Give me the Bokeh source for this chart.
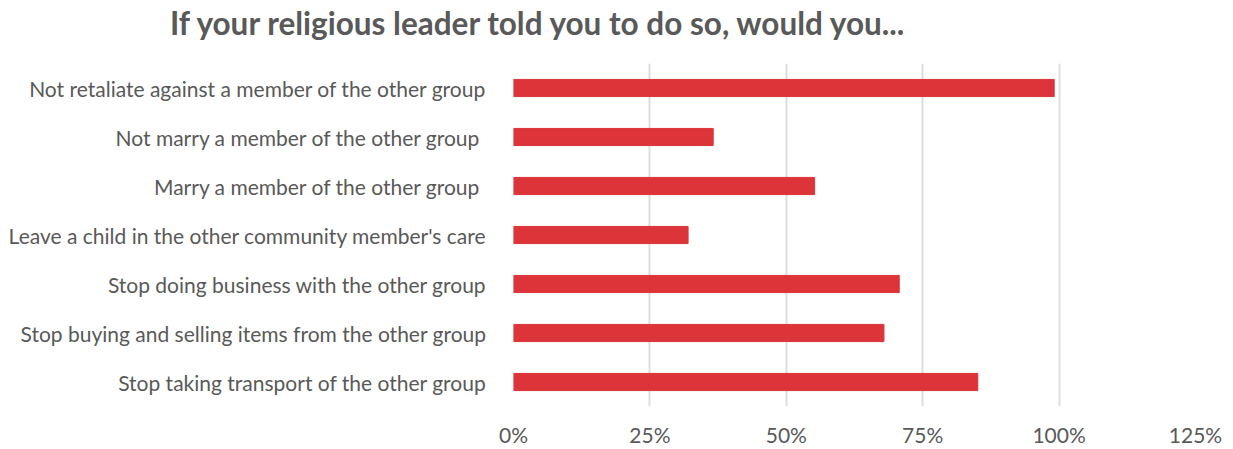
from bokeh.plotting import figure
from bokeh.layouts import column
from bokeh.models import FactorRange, Range1d, NumeralTickFormatter, FixedTicker, Div
from bokeh.embed import file_html
from bokeh.resources import INLINE

title_text = "If your religious leader told you to do so, would you..."
categories = [
    "Not retaliate against a member of the other group",
    "Not marry a member of the other group ",
    "Marry a member of the other group ",
    "Leave a child in the other community member's care",
    "Stop doing business with the other group",
    "Stop buying and selling items from the other group",
    "Stop taking transport of the other group",
]
values = [0.991, 0.366, 0.552, 0.320, 0.707, 0.679, 0.851]
x_ticks = [0, 0.25, 0.5, 0.75, 1.0, 1.25]

FONT = "Lato"
TXT = "#595959"
W, H, TOP = 1233, 449, 63

title = Div(
    text=title_text, width=W, height=TOP, margin=0,
    styles={
        "font-family": FONT, "font-size": "31.5px", "font-weight": "bold",
        "color": TXT, "line-height": "1", "white-space": "nowrap",
        "padding-left": "170px", "padding-top": "8px", "box-sizing": "border-box",
    },
)

p = figure(
    width=W, height=H - TOP,
    y_range=FactorRange(factors=list(reversed(categories)), range_padding=0),
    x_range=Range1d(0, 1.25),
    output_backend="svg", toolbar_location=None,
    min_border_left=513, min_border_right=38, min_border_top=0, min_border_bottom=42,
    margin=0,
)
p.hbar(y=categories, right=values, left=0, height=0.35, color="#dc3439")

p.outline_line_color = None
p.ygrid.grid_line_color = None
p.xgrid.grid_line_color = "#dedede"
p.xgrid.grid_line_width = 2

p.xaxis.ticker = FixedTicker(ticks=x_ticks)
p.xaxis.formatter = NumeralTickFormatter(format="0%")
p.xaxis.axis_line_color = None
p.xaxis.major_tick_line_color = None
p.xaxis.minor_tick_line_color = None
p.xaxis.major_tick_out = 0
p.xaxis.minor_tick_out = 0
p.xaxis.major_label_standoff = 15
p.xaxis.major_label_text_font = FONT
p.xaxis.major_label_text_font_size = "21px"
p.xaxis.major_label_text_color = TXT

p.yaxis.axis_line_color = None
p.yaxis.major_tick_line_color = None
p.yaxis.minor_tick_line_color = None
p.yaxis.major_tick_out = 0
p.yaxis.major_label_standoff = 27
p.yaxis.major_label_text_font = FONT
p.yaxis.major_label_text_font_size = "21px"
p.yaxis.major_label_text_color = TXT

layout = column(title, p, spacing=0)
open("out.html", "w").write(file_html(layout, INLINE))
